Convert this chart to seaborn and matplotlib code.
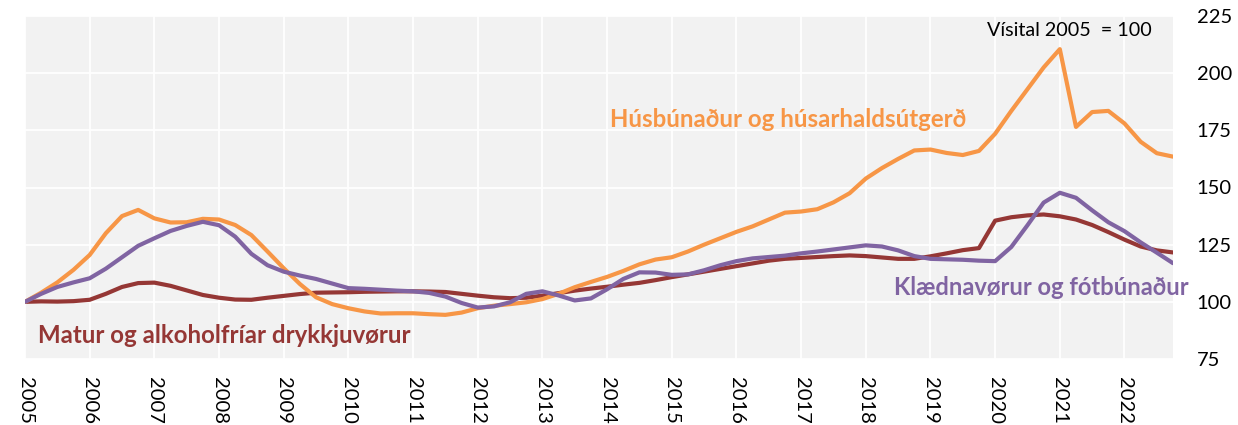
import numpy as np
import pandas as pd
import matplotlib
matplotlib.use("Agg")
import matplotlib.pyplot as plt
import seaborn as sns

# quarterly points
quarters = [2005 + 0.25 * i for i in range(72)]

husbunadur = [
    100, 104, 108.5, 114, 120.5, 130, 137.5, 140.2,
    136.5, 134.7, 134.8, 136.3, 136, 133.6, 129.2, 122,
    114.7, 107.8, 102, 99, 97.2, 95.8, 94.9, 95,
    95, 94.6, 94.3, 95.3, 97.2, 98.3, 99, 99.8,
    101.2, 103.5, 106.4, 108.7, 110.9, 113.5, 116.4, 118.5,
    119.5, 122, 125, 127.8, 130.6, 133, 136, 139,
    139.5, 140.5, 143.5, 147.5, 153.9, 158.5, 162.5, 166.2,
    166.6, 165.1, 164.2, 166, 173.5, 183.5, 193, 202.5,
    210.5, 176.5, 183, 183.5, 178, 170, 165, 163.5,
]

klaednavorur = [
    100, 103.5, 106.5, 108.5, 110.3, 114.5, 119.5, 124.5,
    127.8, 131, 133.2, 135, 133.5, 128.5, 121, 116,
    113.2, 111.5, 110, 108, 106, 105.7, 105.3, 104.9,
    104.6, 103.9, 102.3, 99.5, 97.5, 98, 99.8, 103.5,
    104.6, 102.8, 100.6, 101.5, 105.5, 110, 112.9, 112.8,
    111.8, 112, 113.8, 116, 117.8, 119, 119.6, 120.2,
    121.2, 122, 122.9, 123.8, 124.7, 124.2, 122.5, 120,
    118.8, 118.6, 118.4, 118, 117.8, 124, 133.5, 143.4,
    147.7, 145.5, 140, 134.8, 130.9, 126, 121.5, 116.9,
]

matur = [
    100, 100.2, 100.1, 100.3, 100.9, 103.5, 106.5, 108.2,
    108.4, 107, 105, 103, 101.8, 101, 100.9, 101.8,
    102.6, 103.4, 104, 104.1, 104.2, 104.4, 104.5, 104.6,
    104.6, 104.5, 104.3, 103.5, 102.7, 102, 101.6, 101.8,
    102.7, 103.8, 104.9, 105.8, 106.6, 107.5, 108.3, 109.5,
    110.8, 112, 113.2, 114.4, 115.6, 116.8, 118, 118.8,
    119.2, 119.6, 120, 120.3, 120, 119.4, 118.8, 118.8,
    119.9, 121.2, 122.6, 123.5, 135.5, 137, 137.8, 138.2,
    137.4, 136, 133.6, 130.5, 127.2, 124.2, 122.5, 121.6,
]

series_names = [
    "Matur og alkoholfríar drykkjuvørur",
    "Húsbúnaður og húsarhaldsútgerð",
    "Klædnavørur og fótbúnaður",
]
colors = ["#953735", "#F79646", "#8064A2"]

year_ticks = list(range(2005, 2023))
y_ticks = [75, 100, 125, 150, 175, 200, 225]

df = pd.DataFrame({
    "ar": quarters * 3,
    "visital": matur + husbunadur + klaednavorur,
    "bolkur": [series_names[0]] * 72 + [series_names[1]] * 72 + [series_names[2]] * 72,
})

plt.rcParams["font.family"] = ["Lato", "DejaVu Sans"]

fig = plt.figure(figsize=(12.38, 4.25), dpi=100)
ax = fig.add_axes([25 / 1238, 1 - 359 / 425, 1148 / 1238, 343 / 425])
ax.set_facecolor("#F2F2F2")

sns.lineplot(data=df, x="ar", y="visital", hue="bolkur",
             palette=dict(zip(series_names, colors)),
             hue_order=series_names, linewidth=3, legend=False, ax=ax,
             solid_joinstyle="round", solid_capstyle="round")

ax.set_xlim(2005, 2022.75)
ax.set_ylim(75, 225)
ax.set_xticks(year_ticks)
ax.set_xticklabels([str(y) for y in year_ticks], rotation=-90,
                   va="top", ha="center", fontsize=14.5)
ax.set_yticks(y_ticks)
ax.yaxis.tick_right()
ax.tick_params(axis="y", length=0, pad=17, labelsize=14.5)
ax.tick_params(axis="x", length=0, pad=13)
ax.grid(True, color="white", linewidth=1.3)
ax.set_axisbelow(True)
for s in ax.spines.values():
    s.set_visible(False)
ax.set_xlabel("")
ax.set_ylabel("")

# series labels
ax.text(2005.2, 82.1, series_names[0], color=colors[0], fontsize=17.3,
        fontweight="bold", va="baseline", ha="left")
ax.text(2014.04, 176.4, series_names[1], color=colors[1], fontsize=17.3,
        fontweight="bold", va="baseline", ha="left")
ax.text(2018.43, 103.1, series_names[2], color=colors[2], fontsize=17.1,
        fontweight="bold", va="baseline", ha="left", clip_on=False)
ax.text(2019.88, 216.2, "Vísital 2005  = 100", color="black", fontsize=14.2,
        va="baseline", ha="left")

fig.savefig("out.png", dpi=100)
